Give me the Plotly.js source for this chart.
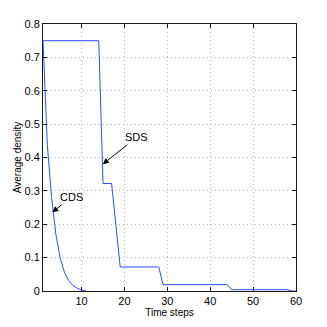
<!DOCTYPE html>
<html>
<head>
<meta charset="utf-8">
<script src="https://cdn.plot.ly/plotly-3.0.1.min.js"></script>
<style>
  html, body { margin: 0; padding: 0; background: #fff; }
  #densityPlot { width: 327px; height: 327px; }
</style>
</head>
<body>
<div id="densityPlot"></div>
<script>
// Time steps
let timeSteps = [];
for (let t = 1; t <= 60; ++t) timeSteps.push(t);

// CDS density (steps 1..11)
let cdsSteps = [1, 2, 3, 4, 5, 6, 7, 8, 9, 10, 11];
let cdsDensity = [0.75, 0.44, 0.28, 0.17, 0.10, 0.056, 0.031, 0.016, 0.008, 0.003, 0.001];

// SDS density, one value per time step 1..60
let sdsDensity = [
    0.75, 0.75, 0.75, 0.75, 0.75, 0.75, 0.75, 0.75, 0.75, 0.75,
    0.75, 0.75, 0.75, 0.75, 0.322, 0.322, 0.322, 0.197, 0.072, 0.072,
    0.072, 0.072, 0.072, 0.072, 0.072, 0.072, 0.072, 0.072, 0.019, 0.019,
    0.019, 0.019, 0.019, 0.019, 0.019, 0.019, 0.019, 0.019, 0.019, 0.019,
    0.019, 0.019, 0.019, 0.019, 0.004, 0.004, 0.004, 0.004, 0.004, 0.004,
    0.004, 0.004, 0.004, 0.004, 0.004, 0.004, 0.004, 0.004, 0, 0
];

let xTicks = [10, 20, 30, 40, 50, 60];
let yTicks = [0, 0.1, 0.2, 0.3, 0.4, 0.5, 0.6, 0.7, 0.8];

let fontFam = 'Liberation Sans Narrow, Liberation Sans, Arial, sans-serif';
let tickFont = { family: fontFam, size: 11, color: '#000' };
let lineColor = '#2a4dff';

let data = [{
    x: cdsSteps,
    y: cdsDensity,
    mode: 'lines',
    line: { color: lineColor, width: 1 },
}, {
    x: timeSteps,
    y: sdsDensity,
    mode: 'lines',
    line: { color: lineColor, width: 1 },
}];

let axisCommon = {
    showline: true,
    linecolor: '#1a1a1a',
    linewidth: 1,
    mirror: 'ticks',
    ticks: 'inside',
    ticklen: 4,
    tickcolor: '#1a1a1a',
    showgrid: true,
    gridcolor: '#b8b8b8',
    griddash: '1px,3px',
    gridwidth: 1,
    zeroline: false,
    tickfont: tickFont,
};

let layout = {
    width: 327,
    height: 327,
    margin: { l: 43, r: 31, t: 24, b: 36, pad: 0 },
    paper_bgcolor: '#fff',
    plot_bgcolor: '#fff',
    showlegend: false,
    xaxis: Object.assign({}, axisCommon, {
        range: [1, 60],
        tickvals: xTicks,
        ticktext: xTicks.map(String),
        title: { text: 'Time steps', font: { family: fontFam, size: 10, color: '#000' }, standoff: 2 },
    }),
    yaxis: Object.assign({}, axisCommon, {
        range: [0, 0.8],
        tickvals: yTicks,
        ticktext: yTicks.map(v => String(v)),
    }),
    annotations: [{
        // y axis title, placed by hand to sit close to the tick labels
        xref: 'paper', yref: 'paper',
        x: -0.1, y: 0.5,
        xanchor: 'center', yanchor: 'middle',
        text: 'Average density',
        textangle: -90,
        showarrow: false,
        font: { family: fontFam, size: 10, color: '#000' },
    }, {
        x: 14.95, y: 0.38,
        text: 'SDS',
        showarrow: true,
        arrowhead: 2,
        arrowsize: 1.2,
        arrowwidth: 1,
        arrowcolor: '#000',
        ax: 34, ay: -27,
        font: { family: fontFam, size: 11, color: '#000' },
    }, {
        x: 3.17, y: 0.236,
        text: 'CDS',
        showarrow: true,
        arrowhead: 2,
        arrowsize: 1.2,
        arrowwidth: 1,
        arrowcolor: '#000',
        ax: 19, ay: -15,
        font: { family: fontFam, size: 11, color: '#000' },
    }],
};

let config = { staticPlot: true, displayModeBar: false };

Plotly.newPlot('densityPlot', data, layout, config);
</script>
</body>
</html>
